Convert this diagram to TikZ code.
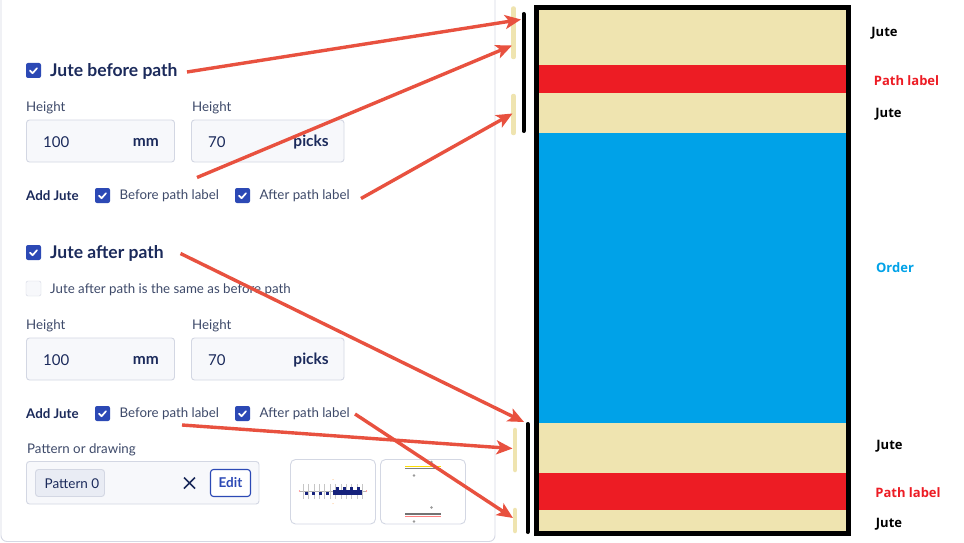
\documentclass[tikz,border=0pt]{standalone}
\usepackage{fontspec}
\setmainfont{Lato}
\newfontfamily\paintfont{Open Sans}
\usetikzlibrary{arrows.meta}
\definecolor{navy}{HTML}{1B2A5B}
\definecolor{greytxt}{HTML}{3E4A6A}
\definecolor{cbblue}{HTML}{2C49B5}
\definecolor{boxfill}{HTML}{F7F8FB}
\definecolor{boxline}{HTML}{D3D7E3}
\definecolor{panelline}{HTML}{D5D8E4}
\definecolor{tan}{HTML}{EFE4B0}
\definecolor{pred}{HTML}{ED1C24}
\definecolor{pblue}{HTML}{00A2E8}
\definecolor{arrowred}{HTML}{E8513F}
\definecolor{chipfill}{HTML}{E9ECF4}
\tikzset{
  x=1pt, y=-1pt,
  pics/cbox/.style={code={
    \fill[cbblue, rounded corners=2pt] (0,0) rectangle (15,15);
    \draw[white, line width=1.7pt, line cap=round, line join=round] (4,7.6)--(6.6,10.2)--(11,5.2);}},
  pics/ebox/.style={code={
    \draw[boxline, fill=boxfill, rounded corners=2pt] (0,0) rectangle (15,15);}},
  inbox/.style={draw=boxline, fill=boxfill, rounded corners=3pt, line width=0.9pt},
  bigtitle/.style={anchor=west, font=\fontsize{17.5}{19}\selectfont\bfseries, text=navy, inner sep=0pt},
  small/.style={anchor=west, font=\fontsize{13.3}{15}\selectfont, text=greytxt, inner sep=0pt},
  smallb/.style={anchor=west, font=\fontsize{13.3}{15}\selectfont\bfseries, text=navy, inner sep=0pt},
  val/.style={anchor=west, font=\fontsize{15}{17}\selectfont, text=navy, inner sep=0pt},
  unit/.style={anchor=east, font=\fontsize{15.5}{17}\selectfont\bfseries, text=navy, inner sep=0pt},
  plabel/.style={anchor=center, font=\paintfont\fontsize{13}{15}\selectfont\bfseries, inner sep=0pt},
  redarrow/.style={draw=arrowred, line width=3.4pt, -{Stealth[length=16pt,width=14pt,inset=4pt]}},
  tanbar/.style={draw=tan, line width=4.5pt, line cap=round},
  blackbar/.style={draw=black, line width=4pt, line cap=round},
}
\begin{document}
\begin{tikzpicture}
\useasboundingbox (0,0) rectangle (964,543);
\fill[white] (0,0) rectangle (964,543);
% panel
\draw[panelline, line width=0.9pt, rounded corners=6pt] (1,-20) -- (1,541.5) -- (495,541.5) -- (495,-20);
% section 1
\pic at (26,63) {cbox};
\node[bigtitle] (t1) at (50,71) {Jute before path};
\node[small] (h1) at (26,108) {Height};
\node[small] (h2) at (192,108) {Height};
\draw[inbox] (26.5,120) rectangle (174.5,162);
\node[val] (v1) at (43,142) {100};
\node[unit] (u1) at (159,142) {mm};
\draw[inbox] (191.5,120) rectangle (344,162);
\node[val] (v2) at (208,142) {70};
\node[unit] (u2) at (329,142) {picks};
\node[smallb] (aj1) at (26,195.5) {Add Jute};
\pic at (95,188) {cbox};
\node[small] (bp1) at (119.5,195.5) {Before path label};
\pic at (235,188) {cbox};
\node[small] (ap1) at (259.5,195.5) {After path label};
% section 2
\pic at (26,245) {cbox};
\node[bigtitle] (t2) at (50,253) {Jute after path};
\pic at (26,281) {ebox};
\node[small] (same) at (50,289.5) {Jute after path is the same as before path};
\node[small] (h3) at (26,326) {Height};
\node[small] (h4) at (192,326) {Height};
\draw[inbox] (26.5,338) rectangle (174.5,380);
\node[val] (v3) at (43,360) {100};
\node[unit] (u3) at (159,360) {mm};
\draw[inbox] (191.5,338) rectangle (344,380);
\node[val] (v4) at (208,360) {70};
\node[unit] (u4) at (329,360) {picks};
\node[smallb] (aj2) at (26,413.5) {Add Jute};
\pic at (95,406) {cbox};
\node[small] (bp2) at (119.5,413.5) {Before path label};
\pic at (235,406) {cbox};
\node[small] (ap2) at (259.5,413.5) {After path label};
\node[small] (pod) at (27,450) {Pattern or drawing};
\draw[inbox] (26.5,461.5) rectangle (259,504);
\draw[boxline, fill=chipfill, rounded corners=3pt, line width=0.9pt] (35.5,469.5) rectangle (104.5,496.5);
\node[val, font=\fontsize{13.5}{15}\selectfont] (chip) at (44.5,483.5) {Pattern 0};
\draw[navy, line width=1.6pt] (184,477.5) -- (195,488.5) (195,477.5) -- (184,488.5);
\draw[cbblue, fill=white, rounded corners=3pt, line width=1.1pt] (210.5,469.5) rectangle (250.5,496.5);
\node[anchor=center, font=\fontsize{13.5}{15}\selectfont\bfseries, text=cbblue, inner sep=0pt] (edit) at (230.5,483) {Edit};
% thumbnails
\draw[boxline, fill=white, rounded corners=5pt, line width=0.9pt] (290.5,459.5) rectangle (375.5,524);
\draw[boxline, fill=white, rounded corners=5pt, line width=0.9pt] (380.5,459.5) rectangle (465.5,524);
\begin{scope}
 \draw[gray!60, line width=0.4pt] (300,491) -- (366,491);
 \foreach \i in {0,...,11} {\draw[gray!45, line width=0.4pt] (303+5.4*\i,484) -- (303+5.4*\i,499);}
 \foreach \xx in {305,312,319,326} {\fill[navy!80!blue] (\xx,491.5) rectangle ++(3.2,3.2);}
 \fill[navy!80!blue] (333,490) rectangle (362,494.5);
 \foreach \xx in {336,343,350,357} {\fill[navy!80!blue] (\xx,486.5) rectangle ++(3.2,3.5);}
 \fill[red!70] (299.5,491) circle (0.6);
 \fill[red!70] (366.5,491) circle (0.6);
 \fill[orange!60] (333,479.5) circle (0.5);
 \fill[orange!60] (333,503.5) circle (0.5);
\end{scope}
\begin{scope}
 \draw[yellow!80!orange, line width=1pt] (405,466.5) -- (441,466.5);
 \draw[gray, line width=1.2pt] (405,468.5) -- (441,468.5);
 \fill[gray!80] (431.5,462) circle (1.3);
 \fill[gray!80] (414,475.5) circle (1.3);
 \fill[gray!80] (431.5,507.5) circle (1.3);
 \draw[gray!90!black, line width=1.2pt] (405,514) -- (441,514);
 \draw[red!50, line width=1pt] (405,516) -- (441,516);
 \fill[gray!80] (414,521.5) circle (1.3);
\end{scope}
% right picture
\fill[tan] (534,5) rectangle (851,536);
\fill[tan] (536,10) rectangle (849,65);
\fill[pred] (536,65) rectangle (849,92.7);
\fill[pblue] (536,133) rectangle (849,423);
\fill[pred] (536,473) rectangle (849,510);
\draw[black, line width=5pt] (536.5,7.5) rectangle (848.5,533.5);
\draw[blackbar] (523.5,14) coordinate (bb1t) -- (523.5,131) coordinate (bb1b);
\draw[blackbar] (527.5,424) coordinate (bb2t) -- (527.5,532) coordinate (bb2b);
\draw[tanbar] (513.5,8.5) -- (513.5,57);
\draw[tanbar] (513.5,96) -- (513.5,133);
\draw[tanbar] (515,430) -- (515,470);
\draw[tanbar] (515,510) -- (515,531);
\node[plabel] (l1) at (884.5,33.5) {Jute};
\node[plabel, text=pred] (l2) at (906.5,81) {Path label};
\node[plabel] (l3) at (888.5,114.5) {Jute};
\node[plabel, text=pblue] (l4) at (895,268) {Order};
\node[plabel] (l5) at (889.5,446.5) {Jute};
\node[plabel, text=pred] (l6) at (908,493) {Path label};
\node[plabel] (l7) at (889,524.5) {Jute};
% arrow anchors
\coordinate (s1) at (187,72);
\coordinate (e1) at (521,19.5);
\coordinate (s2) at (197,177.5);
\coordinate (e2) at (512,45.5);
\coordinate (s3) at (361,198.5);
\coordinate (e3) at (512.5,113.5);
\coordinate (s4) at (180.5,253.5);
\coordinate (e4) at (524,422);
\coordinate (s5) at (182,425);
\coordinate (e5) at (512.5,448.5);
\coordinate (s6) at (355,414);
\coordinate (e6) at (513,518);
\draw[redarrow] (s1) -- (e1);
\draw[redarrow] (s2) -- (e2);
\draw[redarrow] (s3) -- (e3);
\draw[redarrow] (s4) -- (e4);
\draw[redarrow] (s5) -- (e5);
\draw[redarrow] (s6) -- (e6);
\end{tikzpicture}
\end{document}
